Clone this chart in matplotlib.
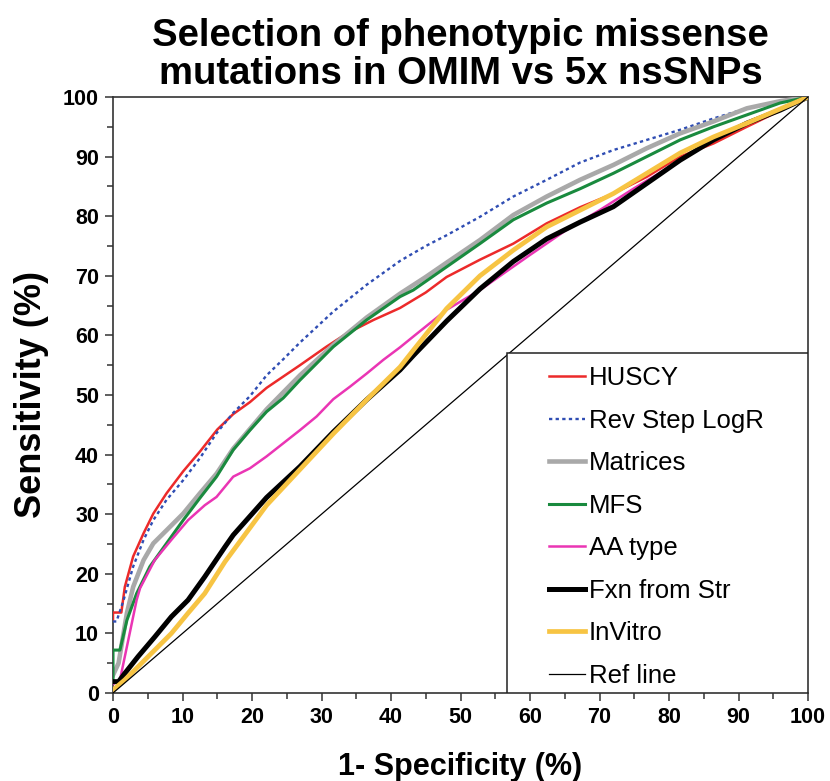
import matplotlib
matplotlib.use("Agg")
import matplotlib.pyplot as plt
from matplotlib.patches import Rectangle
from matplotlib.ticker import MultipleLocator

plt.rcParams['font.family'] = ['Liberation Sans', 'DejaVu Sans']
plt.rcParams['font.weight'] = 'bold'

# ---- data (1-specificity %, sensitivity %) ----
huscy_x = [0, 0, 1.2, 1.7, 2.9, 4.4, 5.8, 7.7, 10.1, 12.5, 15, 17.3, 19.7, 22.1, 26.9, 30.7, 33.6, 37.5,
           41.3, 45, 48, 52.8, 57.6, 62.4, 67.2, 72, 76.8, 81.6, 86.4, 91.2, 100]
huscy_y = [12.2, 13.5, 13.5, 17.8, 22.9, 26.8, 30.1, 33.5, 37.2, 40.5, 44.2, 46.8, 48.8, 51.2, 55.0, 58.1, 60.3, 62.6,
           64.6, 67.2, 69.8, 72.7, 75.4, 78.8, 81.5, 83.8, 86.6, 90.0, 92.2, 95.0, 100]

logr_x = [0, 0.5, 1.5, 2.9, 4.4, 5.8, 7.7, 10.1, 12.5, 14.9, 17.3, 19.7, 22.1, 24.5, 26.9, 31.7, 36.5, 41.3, 45,
          48, 52.8, 57.6, 62.4, 67.2, 72, 76.8, 81.6, 86.4, 91.2, 95, 100]
logr_y = [12.0, 12.0, 15.5, 21.2, 25.7, 29.0, 32.4, 35.7, 39.4, 43.6, 47.0, 49.8, 53.3, 56.0, 58.8, 64.0, 68.5, 72.5, 75.0,
          76.8, 79.9, 83.3, 86.1, 89.0, 91.1, 92.8, 94.5, 96.4, 98.1, 99.0, 100]

matrices_x = [0, 0.8, 2.0, 2.9, 4.4, 5.8, 7.7, 10.1, 12.5, 14.9, 17.3, 22.1, 26.9, 31.7, 36.5, 41.3, 45, 48,
              52.8, 57.6, 62.4, 67.2, 72, 76.8, 81.6, 86.4, 91.2, 96, 100]
matrices_y = [3, 5, 13.4, 17.8, 22.3, 25.1, 27.3, 30.1, 33.5, 36.8, 41.0, 47.6, 53.3, 58.4, 63.0, 67.0, 69.8, 72.2,
              76.0, 80.2, 83.3, 86.1, 88.6, 91.4, 93.9, 95.9, 98.1, 99.3, 100]

mfs_x = [0, 0, 1.0, 2.0, 3.4, 5.3, 7.7, 10.1, 12.5, 14.9, 17.3, 19.7, 22.1, 24.5, 26.9, 31.7, 36.5, 41.3, 43.2,
         48, 52.8, 57.6, 62.4, 67.2, 72, 76.8, 81.6, 86.4, 91.2, 96, 100]
mfs_y = [2.0, 7.2, 7.2, 12.2, 16.7, 21.2, 25.1, 29.0, 32.7, 36.3, 40.8, 44.1, 47.2, 49.5, 52.5, 58.1, 62.6, 66.5, 67.6,
         71.5, 75.4, 79.4, 82.2, 84.6, 87.2, 90.0, 92.8, 95.0, 97.0, 99.0, 100]

aa_x = [0, 1.0, 2.4, 3.4, 3.9, 6.0, 8.4, 10.8, 13.2, 14.9, 17.3, 19.7, 22.1, 24.5, 26.9, 29.3, 31.7, 34.1,
        36.5, 38.9, 41.3, 43.2, 48, 52.8, 56.2, 60, 65, 70, 75, 80, 85, 90, 95, 100]
aa_y = [1.5, 2.2, 10.0, 15.6, 17.6, 22.3, 25.7, 29.0, 31.5, 32.9, 36.3, 37.7, 39.7, 41.9, 44.1, 46.4, 49.3, 51.4,
        53.6, 55.9, 58.0, 59.8, 64.3, 67.6, 70.4, 73.5, 77.5, 81.0, 84.7, 88.2, 91.8, 95.0, 97.5, 100]

fxn_x = [0, 0.8, 1.7, 3.6, 6.0, 8.4, 10.8, 13.2, 16.1, 17.3, 22.1, 26.9, 31.7, 36.5, 41.3, 43.2, 48, 52.8,
         57.6, 62.4, 67.2, 72, 76.8, 81.6, 86.4, 91.2, 96, 100]
fxn_y = [1.9, 1.9, 3.3, 6.1, 9.4, 12.8, 15.6, 19.5, 24.5, 26.5, 32.8, 38.0, 43.8, 49.2, 54.2, 56.6, 62.4, 67.8,
         72.4, 76.2, 79.0, 81.6, 85.5, 89.4, 92.8, 95.6, 97.8, 100]

invitro_x = [0, 1.7, 3.6, 6.0, 8.4, 10.8, 13.2, 16.1, 22.1, 26.9, 31.7, 36.5, 41.3, 43.2, 48, 52.8, 57.6,
             62.4, 67.2, 72, 76.8, 81.6, 86.4, 91.2, 96, 100]
invitro_y = [0.5, 2.2, 4.4, 7.2, 10.0, 13.4, 16.7, 22.0, 31.5, 37.5, 43.5, 49.2, 54.7, 57.5, 64.5, 70.0, 74.3,
             78.2, 81.0, 83.8, 87.2, 90.6, 93.3, 95.6, 98.0, 100]

ref_x = [0, 100]
ref_y = [0, 100]

labels = ["HUSCY", "Rev Step LogR", "Matrices", "MFS", "AA type", "Fxn from Str", "InVitro", "Ref line"]

fig = plt.figure(figsize=(8.30, 7.81), dpi=100)
ax = fig.add_axes([113 / 830, 1 - 693 / 781, 695 / 830, 596 / 781])

ax.plot(huscy_x, huscy_y, color='#ec2a2a', lw=1.8, label=labels[0], zorder=3)
ax.plot(logr_x, logr_y, color='#2f4db3', lw=1.7, ls=(0, (1.4, 1.4)), label=labels[1], zorder=3)
ax.plot(matrices_x, matrices_y, color='#a9a9a9', lw=3.3, label=labels[2], zorder=3)
ax.plot(mfs_x, mfs_y, color='#198a3e', lw=2.2, label=labels[3], zorder=3)
ax.plot(aa_x, aa_y, color='#ea35b4', lw=1.8, label=labels[4], zorder=3)
ax.plot(fxn_x, fxn_y, color='#000000', lw=3.6, label=labels[5], zorder=3)
ax.plot(invitro_x, invitro_y, color='#f7c443', lw=3.4, label=labels[6], zorder=3)
ax.plot(ref_x, ref_y, color='#000000', lw=0.9, label=labels[7], zorder=3)

ax.set_xlim(0, 100)
ax.set_ylim(0, 100)
ax.xaxis.set_major_locator(MultipleLocator(10))
ax.xaxis.set_minor_locator(MultipleLocator(5))
ax.yaxis.set_major_locator(MultipleLocator(10))
ax.yaxis.set_minor_locator(MultipleLocator(5))
ax.tick_params(which='major', direction='out', length=6, width=1.1, labelsize=15.5, pad=4, color='#333333')
ax.tick_params(which='minor', direction='out', length=4, width=1.1, color='#333333')
for lab in ax.get_xticklabels() + ax.get_yticklabels():
    lab.set_fontweight('bold')
for sp in ax.spines.values():
    sp.set_linewidth(1.2)
    sp.set_color('#333333')

ax.set_xlabel("1- Specificity (%)", fontsize=22, fontweight='bold', labelpad=17)
ax.set_ylabel("Sensitivity (%)", fontsize=26, fontweight='bold', labelpad=10)
ax.set_title("Selection of phenotypic missense\nmutations in OMIM vs 5x nsSNPs",
             fontsize=27.5, fontweight='bold', pad=9, linespacing=1.1)

# legend frame
ax.add_patch(Rectangle((0.567, 0.0), 0.433, 0.570, transform=ax.transAxes,
                       facecolor='white', edgecolor='#222222', lw=1.1, zorder=4))
leg = ax.legend(loc='upper left', bbox_to_anchor=(0.628, 0.548), frameon=False,
                fontsize=18.5, handlelength=1.4, handletextpad=0.12, labelspacing=0.72,
                borderpad=0, borderaxespad=0)
leg.set_zorder(5)
for t in leg.get_texts():
    t.set_fontweight('normal')

fig.savefig("out.png", dpi=100)
